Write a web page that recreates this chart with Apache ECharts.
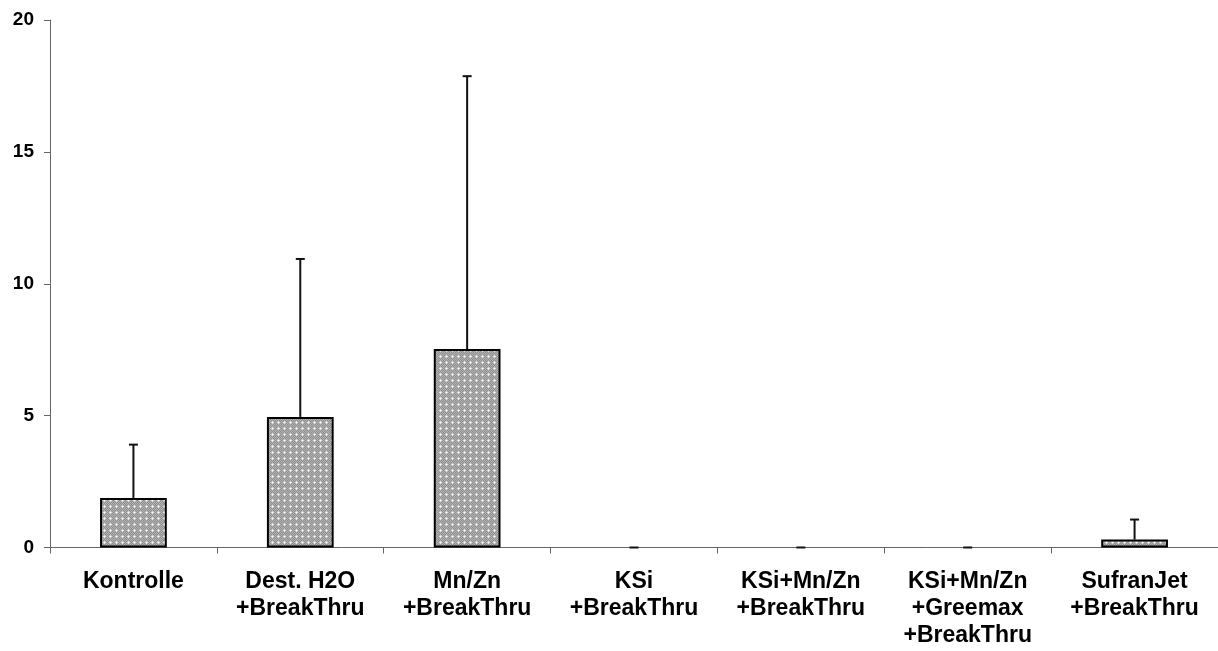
<!DOCTYPE html>
<html>
<head>
<meta charset="utf-8">
<script src="https://cdn.jsdelivr.net/npm/echarts@6/dist/echarts.min.js"></script>
<style>
html,body{margin:0;padding:0;background:#fff;}
#chart{width:1218px;height:651px;}
</style>
</head>
<body>
<div id="chart"></div>
<script>
const categories = ['Kontrolle', 'Dest. H2O\n+BreakThru', 'Mn/Zn\n+BreakThru', 'KSi\n+BreakThru', 'KSi+Mn/Zn\n+BreakThru', 'KSi+Mn/Zn\n+Greemax\n+BreakThru', 'SufranJet\n+BreakThru'];
const means = [1.88, 4.95, 7.53, 0, 0, 0, 0.30];
const errors = [2.02, 5.99, 10.34, 0, 0, 0, 0.76];
const yTicks = [0, 5, 10, 15, 20];

// dotted grey fill pattern
const pc = document.createElement('canvas');
pc.width = 6; pc.height = 6;
const px = pc.getContext('2d');
px.fillStyle = '#909090';
px.fillRect(0, 0, 6, 6);
px.fillStyle = '#b2b2b2';
for (let y = 0; y < 6; y++) for (let x = 0; x < 6; x++) if ((x + y) % 2 === 0) px.fillRect(x, y, 1, 1);
px.fillStyle = '#dcdcdc';
px.fillRect(2, 1, 1, 1); px.fillRect(2, 3, 1, 1); px.fillRect(1, 2, 1, 1); px.fillRect(3, 2, 1, 1);
px.fillStyle = '#ffffff';
px.fillRect(2, 2, 1, 1);

const barData = means.map(v => v === 0 ? {value: v, itemStyle: {borderWidth: 0}} : v);

const chart = echarts.init(document.getElementById('chart'), null, {renderer: 'canvas'});
chart.setOption({
  animation: false,
  backgroundColor: '#ffffff',
  grid: {left: 50, right: 0, top: 20, bottom: 103.5, containLabel: false},
  xAxis: {
    type: 'category',
    data: categories,
    boundaryGap: true,
    axisLine: {lineStyle: {color: '#666', width: 1}},
    axisTick: {show: true, length: 6, lineStyle: {color: '#666'}},
    axisLabel: {
      interval: 0, margin: 21,
      fontFamily: 'Liberation Sans, Arial, sans-serif', fontWeight: 'bold', fontSize: 23,
      lineHeight: 27, color: '#000'
    },
    splitLine: {show: false}
  },
  yAxis: {
    type: 'value',
    min: yTicks[0], max: yTicks[yTicks.length - 1], interval: 5,
    axisLine: {show: true, lineStyle: {color: '#666', width: 1}},
    axisTick: {show: true, length: 6, lineStyle: {color: '#666'}},
    axisLabel: {
      margin: 16,
      fontFamily: 'Liberation Sans, Arial, sans-serif', fontWeight: 'bold', fontSize: 19, color: '#000'
    },
    splitLine: {show: false}
  },
  series: [
    {
      type: 'bar',
      data: barData,
      barWidth: '40%',
      itemStyle: {color: {image: pc, repeat: 'repeat'}, borderColor: '#000', borderWidth: 2},
      z: 2
    },
    {
      type: 'custom',
      data: means.map((m, i) => [i, m, m + errors[i]]),
      renderItem: function (params, api) {
        const i = api.value(0);
        const lo = api.coord([i, api.value(1)]);
        const hi = api.coord([i, api.value(2)]);
        const hw = 4.5;
        return {
          type: 'group',
          children: [
            {type: 'line', shape: {x1: lo[0], y1: lo[1], x2: hi[0], y2: hi[1]}, style: {stroke: '#111', lineWidth: 2}},
            {type: 'line', shape: {x1: hi[0] - hw, y1: hi[1], x2: hi[0] + hw, y2: hi[1]}, style: {stroke: '#111', lineWidth: 2}}
          ]
        };
      },
      z: 3
    }
  ]
});
</script>
</body>
</html>
